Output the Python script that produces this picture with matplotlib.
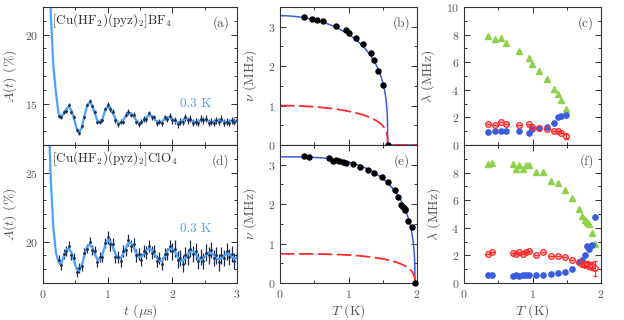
import numpy as np
import matplotlib.pyplot as plt
from matplotlib.ticker import MultipleLocator

plt.rcParams['font.family'] = ['cmr10', 'DejaVu Serif']
plt.rcParams['mathtext.fontset'] = 'cm'
plt.rcParams['axes.formatter.use_mathtext'] = True

# ---- (a) BF4 asymmetry at 0.3 K
# fit line, read every 0.04 us starting at 0.08 us
fit_a = [30.0, 21.5, 17.7, 15.8, 14.3, 14.0, 14.3, 14.6, 14.8, 14.5, 13.9, 13.2, 12.9, 13.3,
         14.1, 14.8, 15.1, 14.9, 14.3, 13.8, 13.6, 13.9, 14.5, 14.8, 14.7, 14.3, 13.9, 13.6,
         13.6, 13.8, 14.1, 14.3, 14.3, 14.1, 13.8, 13.6, 13.6, 13.8, 14.0, 14.2, 14.1, 13.9,
         13.7, 13.6, 13.7, 13.9, 14.0, 14.0, 13.9, 13.7, 13.6, 13.65, 13.8, 13.9, 13.9, 13.8,
         13.7, 13.65, 13.7, 13.8, 13.85, 13.8, 13.7, 13.65, 13.7, 13.75, 13.8, 13.75, 13.7,
         13.65, 13.7, 13.75, 13.75, 13.7]
# data points, every 0.04 us starting at 0.24 us
dat_a = [14.1, 14.0, 14.4, 14.5, 14.9, 14.4, 14.0, 13.1, 12.9, 13.4, 14.0, 14.9, 15.2, 14.8,
         14.4, 13.7, 13.7, 13.8, 14.6, 14.9, 14.6, 14.4, 13.8, 13.5, 13.7, 13.7, 14.2, 14.4,
         14.2, 14.2, 13.7, 13.5, 13.7, 13.9, 13.9, 14.3, 14.0, 14.0, 13.6, 13.7, 13.6, 14.0,
         13.9, 14.1, 13.8, 13.8, 13.5, 13.7, 13.7, 14.0, 13.8, 13.9, 13.6, 13.7, 13.6, 13.9,
         13.8, 13.9, 13.6, 13.7, 13.6, 13.8, 13.7, 13.9, 13.6, 13.7, 13.6, 13.8, 13.7, 13.8]
err_a = [0.15] * 19 + [0.2] * 25 + [0.25] * 26

# ---- (d) ClO4 asymmetry at 0.3 K
fit_d = [30.0, 24.5, 21.0, 19.2, 18.5, 18.4, 18.9, 19.4, 19.5, 19.2, 18.6, 18.0, 17.9, 18.3,
         19.0, 19.6, 19.8, 19.6, 19.1, 18.7, 18.7, 19.1, 19.7, 20.1, 20.0, 19.6, 19.1, 18.8,
         18.8, 19.1, 19.5, 19.9, 19.9, 19.6, 19.2, 18.9, 18.9, 19.1, 19.4, 19.5, 19.4, 19.1,
         18.8, 18.6, 18.6, 18.9, 19.3, 19.5, 19.5, 19.3, 18.9, 18.6, 18.6, 18.8, 19.1, 19.3,
         19.3, 19.1, 18.8, 18.7, 18.8, 19.0, 19.2, 19.2, 19.0, 18.8, 18.7, 18.8, 19.0, 19.1,
         19.1, 18.9, 18.8, 18.8]
dat_d = [18.7, 18.3, 19.1, 19.3, 19.7, 19.0, 18.8, 17.8, 18.1, 18.2, 19.2, 19.5, 20.0, 19.4,
         19.3, 18.5, 18.9, 18.9, 19.9, 20.3, 19.8, 19.8, 18.9, 18.9, 18.6, 19.3, 19.4, 20.1,
         19.7, 19.8, 19.0, 19.1, 18.7, 19.3, 19.2, 19.7, 19.2, 19.3, 18.6, 18.8, 18.4, 19.1,
         19.1, 19.7, 19.3, 19.5, 18.7, 18.8, 18.4, 19.0, 18.9, 19.5, 19.1, 19.3, 18.6, 18.9,
         18.6, 19.2, 19.0, 19.4, 18.8, 19.0, 18.5, 19.0, 18.8, 19.3, 18.9, 19.1, 18.6, 19.0]
err_d = [0.35] * 19 + [0.45] * 25 + [0.6] * 26

# ---- (b) BF4 precession frequency
T_b = [0.355, 0.463, 0.535, 0.623, 0.813, 0.959, 1.007, 1.105, 1.216, 1.324, 1.377, 1.426, 1.504, 1.572]
nu_b = [3.25, 3.19, 3.17, 3.14, 3.02, 2.91, 2.83, 2.71, 2.57, 2.34, 2.15, 1.88, 1.53, 0.0]
# fit parameters: nu0 (blue), nu0 (red), Tc, alpha, beta
fit_b = dict(nu1=3.28, nu2=1.0, Tc=1.572, alpha=2.0, beta=0.3)

# ---- (e) ClO4 precession frequency
T_e = [0.355, 0.423, 0.72, 0.769, 0.818, 0.866, 0.915, 0.964, 1.061, 1.168, 1.28, 1.377,
       1.484, 1.581, 1.684, 1.727, 1.771, 1.80, 1.819, 1.83, 1.873, 1.922, 1.97]
nu_e = [3.22, 3.19, 3.16, 3.09, 3.13, 3.10, 3.08, 3.05, 3.02, 2.95, 2.86, 2.78,
        2.69, 2.56, 2.36, 2.17, 1.98, 1.93, 1.87, 1.84, 1.58, 1.42, 0.0]
fit_e = dict(nu1=3.20, nu2=0.74, Tc=1.97, alpha=3.2, beta=0.35)

# ---- (c) BF4 relaxation rates
T_c = [0.346, 0.457, 0.535, 0.618, 0.803, 0.949, 0.998, 1.10, 1.207, 1.314, 1.368, 1.42, 1.494]
lam_fast_c = [7.92, 7.68, 7.73, 7.39, 6.78, 6.28, 5.87, 5.38, 4.80, 4.06, 3.69, 3.28, 2.61]
lam_blue_c = [0.96, 1.04, 1.04, 1.01, 1.01, 0.87, 1.18, 1.23, 1.33, 1.62, 2.00, 2.12, 2.17]
lam_red_c = [1.52, 1.48, 1.66, 1.50, 1.43, 1.52, 1.28, 1.23, 1.13, 1.01, 0.99, 0.87, 0.62]
err_red_c = [0] * 12 + [0.2]

# ---- (f) ClO4 relaxation rates
T_f = [0.35, 0.414, 0.71, 0.759, 0.808, 0.856, 0.905, 0.954, 1.056, 1.158, 1.275, 1.377,
       1.479, 1.572, 1.674, 1.723, 1.762, 1.79, 1.82, 1.864, 1.912]
lam_fast_f = [8.63, 8.68, 8.61, 8.24, 8.56, 8.24, 8.56, 8.56, 8.05, 8.05, 7.42, 7.27,
              6.74, 6.18, 5.33, 4.85, 4.53, 4.43, 4.29, 3.64, 2.84]
lam_blue_f = [0.58, 0.56, 0.53, 0.58, 0.51, 0.58, 0.60, 0.58, 0.60, 0.60, 0.65, 0.73,
              0.82, 1.04, 1.53, 1.70, 2.06, 2.70, 2.47, 2.74, 4.75]
lam_red_f = [2.13, 2.23, 2.18, 2.08, 2.23, 2.08, 2.23, 2.33, 2.04, 2.23, 1.99, 1.94,
             1.87, 1.65, 1.55, 1.41, 1.33, 1.38, 1.26, 1.21, 1.06]
err_red_f = [0] * 14 + [0.15, 0.2, 0.2, 0.2, 0.25, 0.3, 0.55]

grey = '#555555'
c_fit = '#4aa3ff'
c_dat = '#1d2b4f'
c_blue = '#3a5de0'
c_red = '#ff2a2a'
c_green = '#8ed14a'

fig = plt.figure(figsize=(6.24, 3.2), dpi=100)
W, H = 624.0, 320.0


def box(x0, x1, y0, y1):
    return [x0 / W, 1 - y1 / H, (x1 - x0) / W, (y1 - y0) / H]


ax_a = fig.add_axes(box(43, 237, 7, 145))
ax_d = fig.add_axes(box(43, 237, 145, 283))
ax_b = fig.add_axes(box(280, 417, 7, 145))
ax_e = fig.add_axes(box(280, 417, 145, 283))
ax_c = fig.add_axes(box(464, 601, 7, 145))
ax_f = fig.add_axes(box(464, 601, 145, 283))

for ax in [ax_a, ax_d, ax_b, ax_e, ax_c, ax_f]:
    ax.tick_params(which='both', direction='in', top=True, right=True,
                   labelsize=8.5, labelcolor=grey, color='#333333', width=0.7)
    ax.tick_params(which='major', length=4)
    ax.tick_params(which='minor', length=2)
    for s in ax.spines.values():
        s.set_color('#333333')
        s.set_linewidth(0.8)

# asymmetry panels
for ax, fit, dat, err, lims, name, lab in [
        (ax_a, fit_a, dat_a, err_a, (12, 22), r'[Cu(HF$_2$)(pyz)$_2$]BF$_4$', '(a)'),
        (ax_d, fit_d, dat_d, err_d, (17, 27), r'[Cu(HF$_2$)(pyz)$_2$]ClO$_4$', '(d)')]:
    t = 0.08 + 0.04 * np.arange(len(fit))
    td = 0.24 + 0.04 * np.arange(len(dat))
    ax.errorbar(td, dat, yerr=err, fmt='.', color=c_dat, ms=2, elinewidth=0.9, capsize=0)
    ax.plot(t, fit, color=c_fit, lw=1.6)
    ax.set_xlim(0, 3)
    ax.set_ylim(*lims)
    ax.xaxis.set_major_locator(MultipleLocator(1))
    ax.xaxis.set_minor_locator(MultipleLocator(0.5))
    ax.yaxis.set_major_locator(MultipleLocator(5))
    ax.yaxis.set_minor_locator(MultipleLocator(1))
    ax.set_ylabel(r'$A(t)$ (%)', fontsize=10, color=grey, labelpad=4)
    ax.text(0.045, 0.9, name, transform=ax.transAxes, fontsize=9.5, color='#333333', va='center')
    ax.text(0.87, 0.3 if ax is ax_a else 0.39, '0.3 K', transform=ax.transAxes,
            fontsize=9.5, color=c_fit, va='center', ha='right')
    ax.text(0.96, 0.885, lab, transform=ax.transAxes, ha='right', va='center', fontsize=9.5, color=grey)
ax_a.tick_params(labelbottom=False)
ax_d.set_xlabel(r'$t$ ($\mu$s)', fontsize=10, color=grey, labelpad=2)

# frequency panels
for ax, T, nu, p, lab in [(ax_b, T_b, nu_b, fit_b, '(b)'), (ax_e, T_e, nu_e, fit_e, '(e)')]:
    Tg = np.linspace(0, 2, 801)
    r = np.clip(1 - (Tg / p['Tc']) ** p['alpha'], 0, None) ** p['beta']
    ax.plot(Tg, p['nu1'] * r, color=c_blue, lw=1.1)
    ax.plot(Tg, p['nu2'] * r, color=c_red, lw=1.3, dashes=(8, 2.5))
    ax.plot(T, nu, 'o', color='black', ms=3.6, clip_on=False, zorder=5)
    ax.set_xlim(0, 2)
    ax.set_ylim(0, 3.5)
    ax.xaxis.set_major_locator(MultipleLocator(1))
    ax.xaxis.set_minor_locator(MultipleLocator(0.5))
    ax.yaxis.set_major_locator(MultipleLocator(1))
    ax.yaxis.set_minor_locator(MultipleLocator(0.5))
    ax.set_ylabel(r'$\nu$ (MHz)', fontsize=10, color=grey, labelpad=6)
    ax.text(0.95, 0.885, lab, transform=ax.transAxes, ha='right', va='center', fontsize=9.5, color=grey)
ax_b.tick_params(labelbottom=False)
ax_e.set_xlabel(r'$T$ (K)', fontsize=10, color=grey, labelpad=2)

# relaxation panels
for ax, T, lf, lb, lr, er, lab in [(ax_c, T_c, lam_fast_c, lam_blue_c, lam_red_c, err_red_c, '(c)'),
                                   (ax_f, T_f, lam_fast_f, lam_blue_f, lam_red_f, err_red_f, '(f)')]:
    ax.plot(T, lf, '^', color=c_green, ms=4, mec=c_green)
    ax.errorbar(T, lr, yerr=er, fmt='o', mfc='none', mec=c_red, ecolor=c_red, ms=4, mew=1.0,
                elinewidth=0.8, capsize=1.5)
    ax.plot(T, lb, 'o', color=c_blue, ms=3.8)
    ax.set_xlim(0, 2)
    ax.set_ylim(0, 10)
    ax.xaxis.set_major_locator(MultipleLocator(1))
    ax.xaxis.set_minor_locator(MultipleLocator(0.5))
    ax.yaxis.set_major_locator(MultipleLocator(2))
    ax.yaxis.set_minor_locator(MultipleLocator(1))
    ax.set_ylabel(r'$\lambda$ (MHz)', fontsize=10, color=grey, labelpad=6)
    ax.text(0.95, 0.885, lab, transform=ax.transAxes, ha='right', va='center', fontsize=9.5, color=grey)
ax_c.tick_params(labelbottom=False)
ax_f.set_yticks([0, 2, 4, 6, 8])
ax_f.set_xlabel(r'$T$ (K)', fontsize=10, color=grey, labelpad=2)

fig.savefig('out.png', dpi=100)
